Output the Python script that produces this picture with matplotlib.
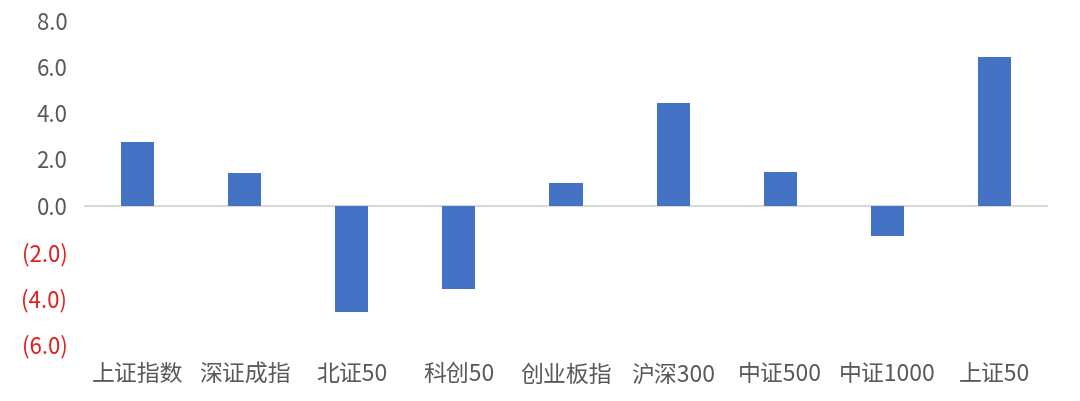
import matplotlib
matplotlib.use("Agg")
import matplotlib.pyplot as plt
import numpy as np

plt.rcParams['font.family'] = ['Noto Sans CJK SC', 'DejaVu Sans']

# index names and weekly change (%)
names = ["上证指数", "深证成指", "北证50", "科创50", "创业板指", "沪深300", "中证500", "中证1000", "上证50"]
values = [2.75, 1.40, -4.62, -3.62, 0.96, 4.46, 1.46, -1.30, 6.46]
yticks = [-6, -4, -2, 0, 2, 4, 6, 8]

fig = plt.figure(figsize=(10.8, 4.01), dpi=100)
ax = fig.add_axes([84/1080, 57/401, 964/1080, 323/401])

x = np.arange(len(names))
ax.bar(x, values, width=0.31, color="#4472C4", zorder=2)
ax.axhline(0, color="#D9D9D9", lw=1.5, zorder=1)

ax.set_xlim(-0.5, len(names) - 0.5)
ax.set_ylim(-6, 8)
ax.set_yticks(yticks)
ax.set_yticklabels([f"({abs(v):.1f})" if v < 0 else f"{v:.1f}" for v in yticks])
for lab, v in zip(ax.get_yticklabels(), yticks):
    lab.set_color("#E02020" if v < 0 else "#595959")

ax.set_xticks(x)
ax.set_xticklabels(names, color="#595959")
ax.tick_params(axis="y", length=0, labelsize=16, pad=12)
ax.tick_params(axis="x", length=0, labelsize=16.5, pad=14)

for lab in ax.get_xticklabels() + ax.get_yticklabels():
    lab.set_fontweight("light")

for s in ax.spines.values():
    s.set_visible(False)

fig.savefig("out.png", dpi=100)
